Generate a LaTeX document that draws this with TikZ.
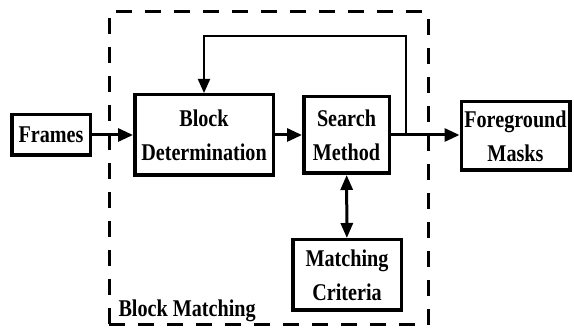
\documentclass[tikz,border=0pt]{standalone}
\usepackage{fontspec}
\setmainfont{Liberation Serif}[FakeStretch=0.84]
\usetikzlibrary{arrows.meta}
\begin{document}
\begin{tikzpicture}[x=1pt,y=1pt,
  txt/.style={font=\bfseries\fontsize{24}{34}\selectfont},
  box/.style={txt, draw, line width=3.5pt, align=center, inner sep=0pt},
  arr/.style={line width=3pt, -{Triangle[length=15pt,width=13pt]}},
  dbl/.style={line width=3pt, {Triangle[length=15pt,width=12pt]}-{Triangle[length=15pt,width=12pt]}},
  fbline/.style={line width=2pt, -{Triangle[length=14pt,width=12pt]}},
  dashbox/.style={draw, line width=3pt, dash pattern=on 16pt off 13pt, inner sep=0pt}]
\useasboundingbox (0,0) rectangle (574,329);
\node[dashbox, minimum width=319pt, minimum height=313pt] (bm) at (268.5,160.5) {};
\node[txt, anchor=base west] (bmlabel) at (115,12) {Block Matching};
\node[box, minimum width=78.5pt, minimum height=40.5pt] (frames) at (51,194) {Frames};
\node[box, minimum width=138.5pt, minimum height=80.5pt] (bd) at (204,194) {Block\\Determination};
\node[box, minimum width=85.5pt, minimum height=76.5pt] (sm) at (346.5,194) {Search\\Method};
\node[box, minimum width=108.5pt, minimum height=68.5pt] (fg) at (515.5,193) {Foreground\\Masks};
\node[box, minimum width=108.5pt, minimum height=70.5pt] (mc) at (347,54) {Matching\\Criteria};
\coordinate (tap) at (406,194);
\coordinate (up) at (406,293);
\draw[arr] (frames) -- (bd);
\draw[arr] (bd) -- (sm);
\draw[arr] (sm.east) -- (sm.east -| fg.west);
\draw[dbl] (sm) -- (mc);
\draw[fbline] (tap) -- (up) -| (bd.north);
\end{tikzpicture}
\end{document}
